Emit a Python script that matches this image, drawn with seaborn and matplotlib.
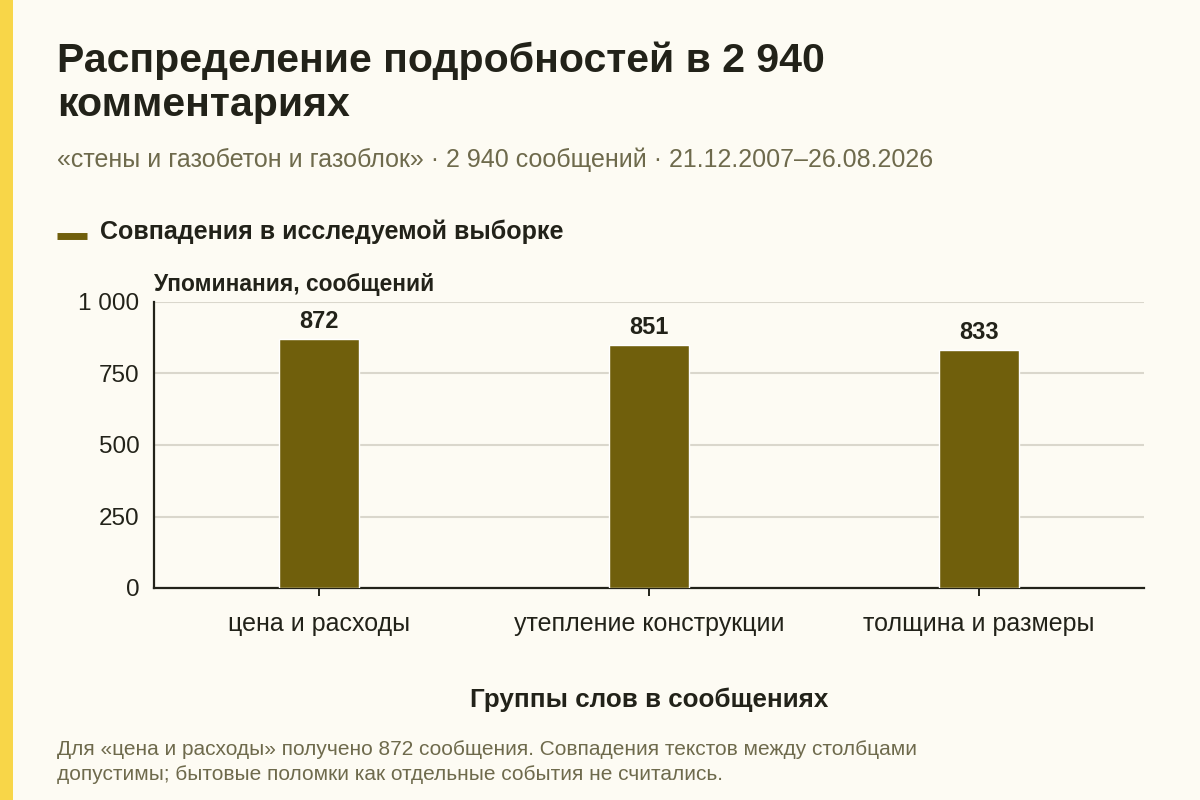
import matplotlib
matplotlib.use("Agg")
import matplotlib.pyplot as plt
import seaborn as sns
import pandas as pd
from matplotlib.patches import Rectangle
from matplotlib.lines import Line2D

# data
categories = ["цена и расходы", "утепление конструкции", "толщина и размеры"]
mentions = [872, 851, 833]
y_ticks = [0, 250, 500, 750, 1000]
y_tick_labels = ["0", "250", "500", "750", "1 000"]

BG = "#FDFBF3"
BAR = "#705F0C"
INK = "#222219"
MUTED = "#6E6A4C"
GRID = "#DAD7CC"
STRIP = "#F8D648"

sns.set_theme(style="white")
plt.rcParams["font.family"] = ["Liberation Sans", "DejaVu Sans"]

df = pd.DataFrame({"group": categories, "count": mentions})

fig = plt.figure(figsize=(12, 8), dpi=100)
fig.patch.set_facecolor(BG)
fig.patches.append(Rectangle((0, 0), 13 / 1200, 1, transform=fig.transFigure,
                             facecolor=STRIP, edgecolor="none", zorder=0))

ax = fig.add_axes([154 / 1200, 1 - 588 / 800, 990 / 1200, 286 / 800])
ax.set_facecolor(BG)
sns.barplot(data=df, x="group", y="count", color=BAR, width=0.24,
            saturation=1, ax=ax, zorder=3)
ax.set_xlim(-0.5, 2.5)
ax.set_ylim(0, 1000)
ax.set_yticks(y_ticks)
ax.set_yticklabels(y_tick_labels)
ax.yaxis.grid(True, color=GRID, lw=1.5, zorder=0)
ax.set_axisbelow(True)
for s in ["top", "right"]:
    ax.spines[s].set_visible(False)
for s in ["left", "bottom"]:
    ax.spines[s].set_color(INK)
    ax.spines[s].set_linewidth(1.6)
ax.tick_params(axis="y", length=0, pad=10.5, labelsize=17.5, labelcolor=INK)
ax.tick_params(axis="x", length=6, width=1.4, color=INK, pad=11,
               labelsize=18, labelcolor=INK, bottom=True)
ax.set_xlabel("")
ax.set_ylabel("")

for p, v in zip(ax.patches, mentions):
    ax.annotate(f"{v}", (p.get_x() + p.get_width() / 2, v),
                xytext=(0, 4), textcoords="offset points",
                ha="center", va="bottom", fontsize=17, fontweight="bold", color=INK)

# texts
fig.text(57 / 1200, 1 - 41 / 800, "Распределение подробностей в 2 940\nкомментариях",
         ha="left", va="top", fontsize=29.5, fontweight="bold", color=INK, linespacing=1.22)
fig.text(57 / 1200, 1 - 160 / 800,
         "«стены и газобетон и газоблок» · 2 940 сообщений · 21.12.2007–26.08.2026",
         ha="left", va="center", fontsize=18, color=MUTED)
fig.lines.append(Line2D([57 / 1200, 87 / 1200], [1 - 236 / 800, 1 - 236 / 800],
                        transform=fig.transFigure, color=BAR, lw=5,
                        solid_capstyle="butt"))
fig.text(100 / 1200, 1 - 232 / 800, "Совпадения в исследуемой выборке",
         ha="left", va="center", fontsize=18, fontweight="bold", color=INK)
fig.text(154 / 1200, 1 - 285 / 800, "Упоминания, сообщений",
         ha="left", va="center", fontsize=16.4, fontweight="bold", color=INK)
fig.text((154 + 495) / 1200, 1 - 700 / 800, "Группы слов в сообщениях",
         ha="center", va="center", fontsize=18.7, fontweight="bold", color=INK)
fig.text(57 / 1200, 1 - 740 / 800,
         "Для «цена и расходы» получено 872 сообщения. Совпадения текстов между столбцами\n"
         "допустимы; бытовые поломки как отдельные события не считались.",
         ha="left", va="top", fontsize=15.05, color=MUTED, linespacing=1.38)

fig.savefig("out.png", dpi=100, facecolor=fig.get_facecolor())
